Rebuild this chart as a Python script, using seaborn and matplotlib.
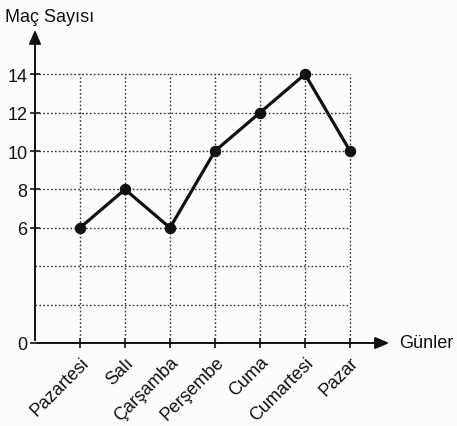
import matplotlib
matplotlib.use("Agg")
import matplotlib.pyplot as plt
import seaborn as sns
import numpy as np

# data
days = ["Pazartesi", "Salı", "Çarşamba", "Perşembe", "Cuma", "Cumartesi", "Pazar"]
matches = [6, 8, 6, 10, 12, 14, 10]
y_labels = [0, 6, 8, 10, 12, 14]
grid_levels = [2, 4, 6, 8, 10, 12, 14]

sns.set_theme(style="white")
plt.rcParams["font.family"] = ["Liberation Sans", "DejaVu Sans"]

W, H = 457, 427
fig = plt.figure(figsize=(W / 100, H / 100), dpi=100, facecolor="#fbfcfc")
ax = fig.add_axes([35 / W, (H - 344) / H, (392 - 35) / W, (344 - 28) / H])
ax.set_facecolor("none")

x = np.arange(1, len(days) + 1)
xmax = (392 - 35) / 45.0
ymax = (344 - 28) / 19.2
ax.set_xlim(0, xmax)
ax.set_ylim(0, ymax)

# dotted grid
ax.hlines(grid_levels, 0, len(days), colors="#333333", linestyles=(0, (1.2, 1.6)), linewidth=1.0, zorder=1)
ax.vlines(x, 0, max(grid_levels), colors="#333333", linestyles=(0, (1.2, 1.6)), linewidth=1.0, zorder=1)

# the line
sns.lineplot(x=x, y=matches, ax=ax, color="#111111", linewidth=2.3, marker="o",
             markersize=7.5, markeredgecolor="#111111", zorder=3)

for s in ax.spines.values():
    s.set_visible(False)

# axes with arrows
ax.annotate("", xy=(xmax, 0), xytext=(0, 0),
            arrowprops=dict(arrowstyle="-|>,head_length=0.7,head_width=0.3", color="#111111", lw=1.4),
            annotation_clip=False)
ax.annotate("", xy=(0, ymax), xytext=(0, 0),
            arrowprops=dict(arrowstyle="-|>,head_length=0.7,head_width=0.3", color="#111111", lw=1.4),
            annotation_clip=False)

ax.set_xticks(x)
ax.set_xticklabels(days, rotation=45, ha="right", va="top", rotation_mode="anchor",
                   fontsize=13, color="#111111")
ax.set_yticks(y_labels)
ax.set_yticklabels([str(v) for v in y_labels], fontsize=13, color="#111111")
ax.tick_params(axis="both", direction="inout", length=7, width=1.2, color="#111111", pad=2,
               bottom=True, left=True)
ax.tick_params(axis="x", pad=4)

fig.text(5 / W, 1 - 17 / H, "Maç Sayısı", fontsize=13, ha="left", va="center", color="#111111")
fig.text(399 / W, 1 - 344 / H, "Günler", fontsize=13, ha="left", va="center", color="#111111")

fig.savefig("out.png", dpi=100, facecolor=fig.get_facecolor())
